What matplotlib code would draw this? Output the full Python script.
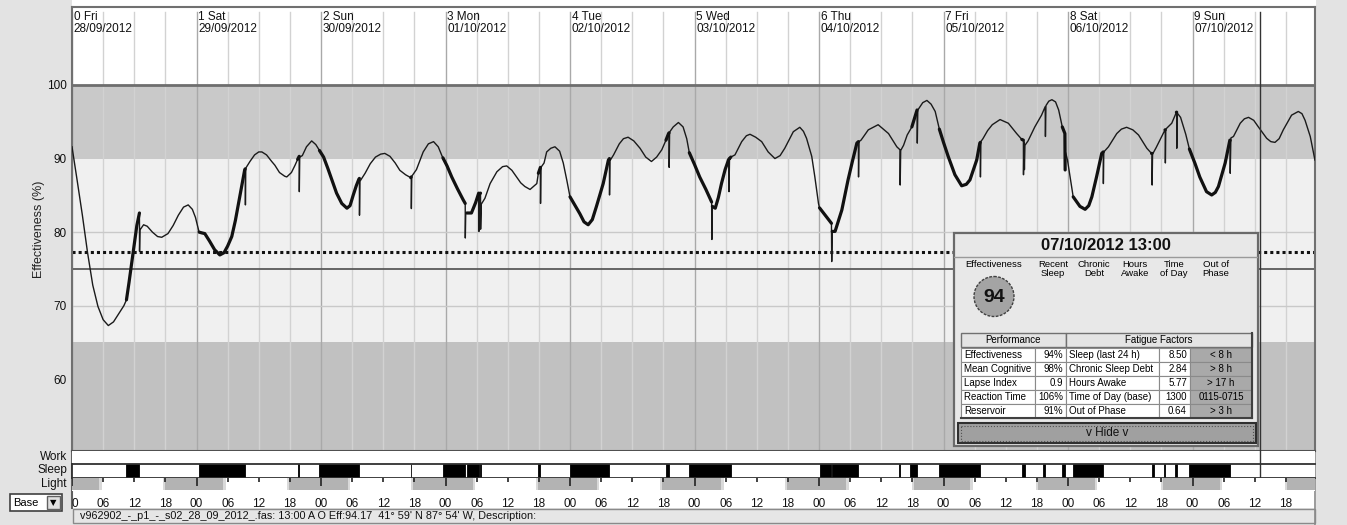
import matplotlib
matplotlib.use("Agg")
import matplotlib.pyplot as plt
import numpy as np
from matplotlib.patches import Rectangle, Circle

plt.rcParams['font.family'] = ['Liberation Sans', 'DejaVu Sans']

W, H, DPI = 1347, 525, 100

# ---------------- data ----------------
day_numbers = [0, 1, 2, 3, 4, 5, 6, 7, 8, 9]
weekdays = ["Fri", "Sat", "Sun", "Mon", "Tue", "Wed", "Thu", "Fri", "Sat", "Sun"]
dates = ["28/09/2012", "29/09/2012", "30/09/2012", "01/10/2012", "02/10/2012",
         "03/10/2012", "04/10/2012", "05/10/2012", "06/10/2012", "07/10/2012"]

hours = [0.0, 1.0, 2.0, 3.0, 4.0, 5.0, 6.0, 7.0, 8.0, 9.0, 10.0, 10.5, 11.0, 11.5, 12.0, 12.5,
         13.0, 13.02, 13.1, 13.8, 14.5, 15.5, 16.5, 17.3, 18.5, 19.5, 20.5, 21.5, 22.4, 23.2,
         23.8, 24.5, 25.0, 25.6, 26.5, 27.5, 28.5, 29.3, 30.0, 30.8, 31.5, 32.1, 32.7, 33.3,
         33.4, 33.43, 33.5, 34.3, 35.2, 36.0, 36.6, 37.5, 38.5, 39.1, 40.0, 41.0, 41.4, 42.3,
         43.0, 43.5, 43.8, 43.82, 43.9, 44.4, 45.2, 46.2, 47.0, 47.7, 48.5, 49.3, 50.1, 51.0,
         52.0, 53.0, 53.6, 54.2, 54.8, 55.3, 55.4, 55.42, 55.5, 56.5, 57.5, 58.5, 59.5, 60.3,
         61.3, 62.3, 63.2, 64.3, 65.3, 65.4, 65.42, 65.5, 66.4, 67.7, 68.7, 69.7, 70.6, 71.3,
         71.5, 72.3, 73.2, 74.3, 75.4, 75.8, 75.82, 75.9, 76.1, 77.0, 77.8, 78.4, 78.45, 78.5,
         78.6, 78.75, 78.77, 78.9, 79.6, 80.6, 81.9, 83.0, 83.8, 84.8, 85.7, 86.5, 87.3, 88.3,
         89.6, 89.9, 90.3, 90.32, 90.4, 91.0, 91.5, 92.3, 93.1, 94.0, 94.7, 95.4, 96.0, 97.0,
         97.9, 98.7, 99.5, 100.3, 101.1, 102.4, 103.4, 103.6, 103.62, 103.7, 104.4, 105.5,
         106.3, 107.2, 108.3, 109.5, 110.6, 111.7, 112.7, 113.7, 114.5, 115.0, 115.1, 115.12,
         115.2, 115.9, 116.9, 117.8, 118.5, 119.0, 120.0, 121.0, 122.2, 123.3, 123.35, 123.45,
         124.0, 124.6, 125.2, 125.9, 126.6, 126.65, 126.75, 127.0, 127.8, 129.1, 130.0, 130.7,
         131.8, 132.95, 134.2, 135.5, 136.5, 137.4, 139.05, 140.3, 141.0, 141.6, 142.6, 143.2,
         143.9, 144.1, 145.2, 146.4, 146.45, 146.55, 147.1, 148.4, 149.6, 150.5, 151.3, 151.6,
         151.62, 151.7, 152.1, 153.5, 155.4, 157.4, 159.0, 159.6, 159.65, 159.75, 160.3, 161.0,
         161.9, 162.9, 162.95, 163.05, 164.0, 164.8, 165.6, 166.4, 167.2, 168.0, 168.9, 170.2,
         171.5, 172.4, 173.1, 174.4, 175.0, 175.1, 175.12, 175.2, 175.6, 176.5, 177.4, 178.9,
         180.5, 182.1, 183.1, 183.4, 183.42, 183.5, 183.6, 183.7, 184.3, 185.6, 186.9, 187.6,
         187.65, 187.75, 188.3, 188.9, 189.6, 190.2, 190.9, 191.4, 191.45, 191.55, 191.9, 192.5,
         193.0, 194.3, 195.3, 196.0, 196.6, 197.5, 198.5, 198.8, 198.82, 198.9, 199.8, 200.6,
         201.4, 202.3, 203.3, 204.5, 205.6, 207.2, 208.1, 208.2, 208.22, 208.3, 209.0, 209.7,
         210.7, 210.75, 210.77, 210.85, 212.0, 212.9, 212.95, 212.97, 213.05, 213.7, 214.7,
         215.4, 216.5, 217.4, 218.7, 219.7, 220.4, 221.0, 222.3, 223.2, 223.25, 223.27, 223.4,
         223.9, 225.2, 226.0, 226.8, 227.8, 228.7, 230.3, 231.1, 231.9, 232.7, 233.5, 235.1,
         236.4, 237.1, 237.7, 238.7, 239.6]

effectiveness = [91.6, 87.0, 82.3, 77.2, 72.8, 69.9, 68.1, 67.3, 67.8, 68.9, 70.0, 70.8, 73.2, 75.8,
                 78.5, 80.9, 82.6, 77.4, 80.3, 81.0, 80.8, 80.0, 79.4, 79.3, 79.8, 80.9, 82.3, 83.4,
                 83.7, 83.1, 82.0, 80.0, 79.9, 79.8, 78.8, 77.6, 76.9, 77.2, 78.1, 79.4, 81.6, 83.9,
                 86.2, 88.5, 88.6, 83.7, 88.7, 89.6, 90.5, 90.9, 90.9, 90.5, 89.6, 89.1, 88.1, 87.6,
                 87.5, 88.1, 89.1, 89.9, 90.3, 85.5, 90.2, 90.4, 91.6, 92.4, 91.9, 91.1, 90.2, 88.7,
                 87.1, 85.3, 83.9, 83.25, 83.6, 85.0, 86.3, 87.2, 87.3, 82.3, 86.9, 88.0, 89.3, 90.2,
                 90.6, 90.7, 90.3, 89.4, 88.4, 87.8, 87.4, 87.5, 83.2, 87.6, 88.5, 90.9, 92.0, 92.3,
                 91.6, 90.4, 90.1, 89.0, 87.5, 85.9, 84.4, 83.9, 79.2, 82.6, 82.6, 82.6, 84.0, 85.3,
                 80.1, 84.6, 85.2, 85.3, 80.4, 83.8, 84.6, 86.6, 88.2, 88.9, 89.0, 88.4, 87.5, 86.7,
                 86.2, 85.8, 86.6, 88.0, 88.8, 83.9, 88.8, 89.4, 90.9, 91.4, 91.6, 91.0, 89.4, 87.0,
                 84.8, 83.6, 82.5, 81.4, 81.0, 81.7, 83.5, 86.6, 89.8, 90.0, 85.05, 89.7, 90.5, 92.0,
                 92.7, 92.9, 92.4, 91.4, 90.2, 89.6, 90.2, 91.2, 92.5, 93.4, 93.5, 88.8, 93.6, 94.3,
                 94.9, 94.3, 92.7, 90.8, 89.2, 87.5, 85.8, 84.1, 79.0, 83.5, 83.25, 84.7, 86.6, 88.5,
                 89.9, 85.5, 90.0, 90.2, 90.5, 92.3, 93.1, 93.3, 92.9, 92.3, 90.9, 90.0, 90.4, 91.4,
                 93.65, 94.25, 93.7, 92.75, 90.3, 87.5, 83.9, 83.3, 82.3, 81.2, 76.0, 80.1, 80.1,
                 83.0, 87.1, 89.8, 92.1, 92.3, 87.5, 92.3, 92.5, 93.9, 94.6, 93.4, 91.6, 91.2, 86.4,
                 91.1, 91.8, 93.2, 94.3, 96.6, 92.1, 96.6, 97.6, 97.9, 97.4, 96.4, 94.0, 92.2, 90.3,
                 87.8, 86.3, 86.5, 87.1, 89.8, 92.1, 92.2, 87.5, 92.3, 92.7, 93.8, 94.6, 95.3, 94.8,
                 93.4, 92.6, 92.5, 87.8, 92.3, 88.5, 91.8, 92.4, 94.3, 95.9, 97.05, 93.0, 97.2, 97.8,
                 98.0, 97.7, 96.6, 94.3, 93.4, 88.45, 90.8, 89.8, 87.1, 84.8, 83.5, 83.1, 83.6, 84.8,
                 87.5, 90.7, 90.9, 86.6, 90.9, 91.6, 92.5, 93.4, 94.0, 94.25, 93.9, 93.2, 91.4, 90.7,
                 90.7, 86.4, 90.6, 91.5, 92.5, 93.9, 93.9, 89.4, 94.0, 94.8, 96.3, 96.3, 91.4, 96.2,
                 95.6, 93.3, 91.3, 89.3, 87.5, 85.5, 85.05, 85.4, 86.2, 89.4, 92.5, 92.5, 88.0, 92.8,
                 93.0, 94.8, 95.4, 95.6, 95.2, 94.3, 92.75, 92.3, 92.2, 92.7, 93.9, 95.9, 96.4, 96.1,
                 95.2, 93.0, 89.8]

sleep_start = [10.5, 24.5, 43.5, 47.7, 65.3, 71.5, 76.1, 78.6, 89.9, 96.0, 114.5, 119.0,
               144.1, 146.55, 159.5, 161.5, 167.2, 183.1, 187.1, 190.9, 193.0, 208.1,
               210.5, 212.6, 215.4]
sleep_end = [13.0, 33.4, 43.8, 55.4, 65.4, 75.8, 78.4, 78.75, 90.3, 103.6, 115.1, 127.0,
             146.4, 151.6, 159.65, 162.95, 175.1, 183.7, 187.65, 191.45, 198.8, 208.5,
             210.75, 212.95, 223.25]

night_start = [0.0, 17.9, 41.9, 65.8, 89.9, 113.8, 137.9, 162.4, 186.3, 210.4, 234.3]
night_end = [5.3, 29.2, 53.2, 77.3, 101.2, 125.2, 149.3, 173.2, 197.2, 221.3, 240.0]

clock_hours = list(range(0, 240, 6))
clock_labels = ["00", "06", "12", "18"] * 10
clock_labels[0] = "0"

y_ticks = [60, 70, 80, 90, 100]
upper_band = (90, 100)
lower_band = (50, 65)
criterion_line = 77.35
threshold_line = 75
marker_hour = 229

panel_title = "07/10/2012 13:00"
panel_effectiveness = 94
factor_headers = ["Recent\nSleep", "Chronic\nDebt", "Hours\nAwake", "Time\nof Day", "Out of\nPhase"]
perf_labels = ["Effectiveness", "Mean Cognitive", "Lapse Index", "Reaction Time", "Reservoir"]
perf_values = ["94%", "98%", "0.9", "106%", "91%"]
factor_labels = ["Sleep (last 24 h)", "Chronic Sleep Debt", "Hours Awake",
                 "Time of Day (base)", "Out of Phase"]
factor_values = ["8.50", "2.84", "5.77", "1300", "0.64"]
factor_limits = ["< 8 h", "> 8 h", "> 17 h", "0115-0715", "> 3 h"]

status_text = ("v962902_-_p1_-_s02_28_09_2012_.fas: 13:00 A O Eff:94.17  "
               "41\u00b0 59' N 87\u00b0 54' W, Description:")

# ---------------- layout helpers ----------------
def px(x0, y0, x1, y1):
    return [x0 / W, 1 - y1 / H, (x1 - x0) / W, (y1 - y0) / H]

X0, X1 = 72, 1315
XMAX = (X1 - X0) / 124.5 * 24

fig = plt.figure(figsize=(W / DPI, H / DPI), dpi=DPI, facecolor='white')

# background decoration axes (pixel coordinates)
bg = fig.add_axes([0, 0, 1, 1], zorder=-10)
bg.set_xlim(0, W)
bg.set_ylim(H, 0)
bg.axis('off')
grey = '#e3e3e3'
bg.add_patch(Rectangle((0, 0), X0, H, fc=grey, ec='none'))
bg.add_patch(Rectangle((X1 + 1, 0), W - X1, H, fc=grey, ec='none'))
bg.add_patch(Rectangle((X0, 508), X1 - X0, H - 508, fc=grey, ec='none'))
bg.add_patch(Rectangle((X0 + 0.5, 508.5), X1 - X0 - 1, 14, fc='#e6e6e6', ec='#8a8a8a', lw=1))
bg.text(80, 516, status_text, fontsize=7.8, va='center', ha='left', color='#111111')
# Base dropdown
bg.add_patch(Rectangle((10, 494), 52, 17, fc='white', ec='#404040', lw=1.2))
bg.add_patch(Rectangle((47, 496), 13, 13, fc='#e0e0e0', ec='#606060', lw=1))
bg.text(13, 502.5, "Base", fontsize=8, va='center', ha='left')
bg.text(53.5, 502.5, "\u25BC", fontsize=6, va='center', ha='center', family='DejaVu Sans')
# row labels
for lab, yc in zip(["Work", "Sleep", "Light"], [457, 470.5, 484]):
    bg.text(67, yc, lab, fontsize=8.5, ha='right', va='center', color='#111111')
bg.plot([X0, X0], [451, 508], color='#606060', lw=1.5)
bg.plot([X1, X1], [7, 525], color='#8a8a8a', lw=1.2)

# ---------------- main chart ----------------
ax = fig.add_axes(px(X0, 7, X1, 451))
YMIN, YMAX = 50.25, 110.6
ax.set_xlim(0, XMAX)
ax.set_ylim(YMIN, YMAX)
ax.set_facecolor('white')
ax.axhspan(lower_band[1], upper_band[0], color='#f0f0f0', zorder=0, lw=0)
ax.axhspan(upper_band[0], upper_band[1], color='#c9c9c9', zorder=0, lw=0)
ax.axhspan(YMIN, lower_band[1], color='#c1c1c1', zorder=0, lw=0)
gtop = (YMAX - (YMAX - YMIN) * 5 / 444 - YMIN) / (YMAX - YMIN)
for h in clock_hours:
    c = '#a9a9a9' if h % 24 == 0 else '#d2d2d2'
    ax.axvline(h, ymin=0, ymax=gtop, color=c, lw=1, zorder=1)
for yv in [70, 80]:
    ax.axhline(yv, color='#c9c9c9', lw=1, zorder=1)
ax.axhline(100, color='#6e6e6e', lw=2, zorder=2)
ax.axhline(threshold_line, color='#5a5a5a', lw=1.3, zorder=2)
ax.axhline(criterion_line, color='#111111', lw=2.2, ls=(0, (1, 1)), zorder=2)

hrs = np.array(hours)
eff = np.array(effectiveness)
asleep = np.zeros(len(hrs), dtype=bool)
for s, e in zip(sleep_start, sleep_end):
    asleep |= (hrs >= s - 0.005) & (hrs <= e + 0.005)
# sharp inertia dips are always drawn with the thin pen
dip = np.zeros(len(hrs), dtype=bool)
dip[1:-1] = (eff[1:-1] < eff[:-2] - 2.5) & (eff[1:-1] < eff[2:] - 2.5)
thick = asleep & ~dip
ax.plot(hrs, eff, color='#1a1a1a', lw=1.0, zorder=4)
ax.plot(hrs, np.where(thick, eff, np.nan), color='#111111', lw=2.3, zorder=4,
        solid_capstyle='round')
ax.axvline(marker_hour, ymin=0, ymax=gtop, color='#333333', lw=1, zorder=5)

for d, wd, dt in zip(day_numbers, weekdays, dates):
    ax.text(24 * d + 0.35, YMAX - 0.5, f"{d} {wd}\n{dt}", fontsize=8.5, va='top', ha='left',
            linespacing=1.0, color='#111111', zorder=6)

ax.set_xticks([])
ax.set_yticks(y_ticks)
ax.set_yticklabels([str(v) for v in y_ticks], fontsize=8.5, color='#111111')
ax.tick_params(axis='y', length=0, pad=4)
ax.set_ylabel("Effectiveness (%)", fontsize=9, color='#222222')
ax.yaxis.set_label_coords((45 - X0) / (X1 - X0), 0.5)
for side, sp in ax.spines.items():
    sp.set_color('#707070')
    sp.set_linewidth(1.5)
ax.spines['bottom'].set_color('#505050')

# ---------------- work row ----------------
axw = fig.add_axes(px(X0, 451, X1, 464))
axw.set_xlim(0, XMAX)
axw.set_ylim(0, 1)
axw.set_xticks([]); axw.set_yticks([])
for sp in axw.spines.values():
    sp.set_visible(False)
axw.axvline(marker_hour, color='#333333', lw=1)

# ---------------- sleep row ----------------
axs = fig.add_axes(px(X0, 464, X1, 478))
axs.set_xlim(0, XMAX)
axs.set_ylim(0, 1)
axs.broken_barh([(s, e - s) for s, e in zip(sleep_start, sleep_end)], (0, 1),
                facecolors='black', edgecolor='black', lw=0.6)
axs.axvline(marker_hour, color='#333333', lw=1)
axs.set_xticks([]); axs.set_yticks([])
for side, sp in axs.spines.items():
    sp.set_color('#303030'); sp.set_linewidth(1.3)
axs.spines['right'].set_visible(False)

# ---------------- light row ----------------
axl = fig.add_axes(px(X0, 478, X1, 491))
axl.set_xlim(0, XMAX)
axl.set_ylim(0, 1)
axl.broken_barh([(s - 0.45, e - s + 0.9) for s, e in zip(night_start, night_end)], (0.05, 0.95),
                facecolors='#d9d9d9', lw=0)
axl.broken_barh([(s, e - s) for s, e in zip(night_start, night_end)], (0.05, 0.95),
                facecolors='#b3b3b3', lw=0)
trans = axl.get_xaxis_transform()
short = [h for h in clock_hours if h % 24 != 0]
longt = [h for h in clock_hours if h % 24 == 0]
axl.vlines(short, 0.72, 1.0, color='#222222', lw=1.2, transform=trans)
axl.vlines(longt, 0.35, 1.0, color='#222222', lw=1.2, transform=trans)
axl.set_xticks(clock_hours)
axl.set_xticklabels(clock_labels, fontsize=8.5, color='#111111')
axl.get_xticklabels()[0].set_horizontalalignment('left')
axl.tick_params(axis='x', length=0, pad=5)
axl.set_yticks([])
for sp in axl.spines.values():
    sp.set_visible(False)

# ---------------- info panel ----------------
PX0, PY0, PX1, PY1 = 954, 233, 1258, 446
axp = fig.add_axes(px(PX0, PY0, PX1, PY1), zorder=10)
axp.set_xlim(PX0, PX1)
axp.set_ylim(PY1, PY0)
axp.axis('off')
axp.add_patch(Rectangle((PX0, PY0), PX1 - PX0, PY1 - PY0, fc='#e8e8e8', ec='#6a6a6a', lw=1.6,
                        clip_on=False))
axp.plot([PX0, PX1], [256.5, 256.5], color='#9a9a9a', lw=1)
axp.text((PX0 + PX1) / 2, 245, panel_title, fontsize=12, fontweight='bold', ha='center',
         va='center', color='#111111')
axp.text(965, 260, "Effectiveness", fontsize=6.8, ha='left', va='top')
for xc, lab in zip([1053, 1094, 1135, 1174, 1216], factor_headers):
    axp.text(xc, 260, lab, fontsize=6.8, ha='center', va='top', linespacing=1.05)
axp.add_patch(Circle((994, 296.5), 20, fc='#a4a4a4', ec='#404040', lw=1, ls=(0, (2, 1))))
axp.text(994, 297, str(panel_effectiveness), fontsize=14, fontweight='bold', ha='center',
         va='center', color='#111111')

# table
cols = [961, 1035, 1066, 1159, 1190, 1252]
hy0, hy1 = 333, 347
axp.add_patch(Rectangle((cols[0], hy0), cols[2] - cols[0], hy1 - hy0, fc='#e4e4e4',
                        ec='#707070', lw=1))
axp.add_patch(Rectangle((cols[2], hy0), cols[5] - cols[2], hy1 - hy0, fc='#e4e4e4',
                        ec='#707070', lw=1))
axp.text((cols[0] + cols[2]) / 2, (hy0 + hy1) / 2, "Performance", fontsize=7, ha='center',
         va='center')
axp.text((cols[2] + cols[5]) / 2, (hy0 + hy1) / 2, "Fatigue Factors", fontsize=7, ha='center',
         va='center')
rh = 14
for i in range(len(perf_labels)):
    y0 = 348 + rh * i
    for j in range(5):
        fc = '#a9a9a9' if j == 4 else 'white'
        axp.add_patch(Rectangle((cols[j], y0), cols[j + 1] - cols[j], rh, fc=fc,
                                ec='#8a8a8a', lw=0.8))
    yc = y0 + rh / 2
    axp.text(cols[0] + 3, yc, perf_labels[i], fontsize=7, ha='left', va='center')
    axp.text(cols[2] - 3, yc, perf_values[i], fontsize=7, ha='right', va='center')
    axp.text(cols[2] + 3, yc, factor_labels[i], fontsize=7, ha='left', va='center')
    axp.text(cols[4] - 3, yc, factor_values[i], fontsize=7, ha='right', va='center')
    axp.text((cols[4] + cols[5]) / 2, yc, factor_limits[i], fontsize=7, ha='center',
             va='center')
axp.plot([cols[0], cols[5]], [348 + rh * 5, 348 + rh * 5], color='#404040', lw=1.5)
axp.plot([cols[5], cols[5]], [hy0, 348 + rh * 5], color='#404040', lw=1.5)

# hide button
axp.add_patch(Rectangle((958, 423), 298, 20, fc='#a0a0a0', ec='#303030', lw=1.5))
axp.add_patch(Rectangle((961, 425.5), 292, 15, fc='none', ec='#505050', lw=0.8, ls=':'))
axp.text(1107, 433, "v Hide v", fontsize=8.5, ha='center', va='center', color='#111111')

fig.savefig("out.png", dpi=DPI, facecolor=fig.get_facecolor())
